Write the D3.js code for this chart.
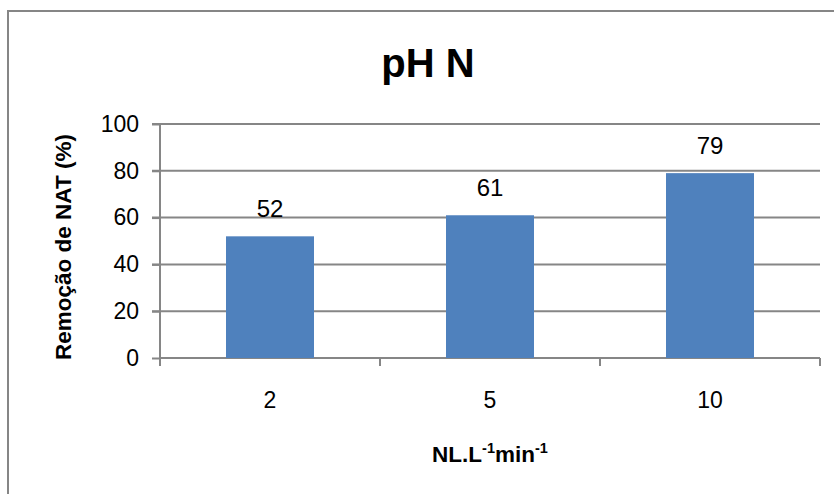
<!DOCTYPE html>
<html>
<head>
<meta charset="utf-8">
<script src="https://cdn.jsdelivr.net/npm/d3@7"></script>
<style>
  html, body { margin: 0; padding: 0; background: #fff; }
  svg { display: block; }
  text { font-family: "Liberation Sans", Arial, sans-serif; fill: #000; }
</style>
</head>
<body>
<svg id="chart" width="834" height="494"></svg>
<script>
// Chart data
const categories = ["2", "5", "10"];
const removal = [52, 61, 79];
const yTicks = [0, 20, 40, 60, 80, 100];
const titleText = "pH N";
const yTitle = "Remoção de NAT (%)";

const W = 834, H = 494;
const plot = { left: 160, right: 820, top: 124, bottom: 358 };
const gray = "#868686";
const barColor = "#4F81BD";

const svg = d3.select("#chart");

// Chart area frame (runs off the right and bottom edges)
svg.append("rect")
  .attr("x", 8).attr("y", 11)
  .attr("width", 900).attr("height", 600)
  .attr("fill", "#fff")
  .attr("stroke", gray).attr("stroke-width", 2);

const x = d3.scaleBand()
  .domain(categories)
  .range([plot.left, plot.right])
  .paddingInner(0.6)
  .paddingOuter(0.3);

const y = d3.scaleLinear()
  .domain([0, 100])
  .range([plot.bottom, plot.top]);

// Horizontal gridlines
svg.append("g")
  .selectAll("line")
  .data(yTicks.filter(d => d > 0))
  .join("line")
  .attr("x1", plot.left - 8).attr("x2", plot.right)
  .attr("y1", d => y(d)).attr("y2", d => y(d))
  .attr("stroke", gray).attr("stroke-width", 2);

// Y axis
const yAxis = d3.axisLeft(y).tickValues(yTicks).tickSize(8).tickPadding(13);
const gy = svg.append("g").attr("transform", `translate(${plot.left},0)`).call(yAxis);
gy.attr("font-size", null).attr("font-family", null);
gy.select(".domain").attr("stroke", gray).attr("stroke-width", 2)
  .attr("d", `M0,${plot.top}V${plot.bottom + 8}`);
gy.selectAll(".tick line").attr("stroke", gray).attr("stroke-width", 2);
gy.selectAll(".tick text")
  .attr("font-size", 23)
  .attr("fill", "#000");

// X axis: ticks sit on category boundaries
const boundaries = d3.range(categories.length + 1)
  .map(i => plot.left + i * (plot.right - plot.left) / categories.length);
svg.append("line")
  .attr("x1", plot.left).attr("x2", plot.right)
  .attr("y1", plot.bottom).attr("y2", plot.bottom)
  .attr("stroke", gray).attr("stroke-width", 2);
svg.append("g")
  .selectAll("line")
  .data(boundaries)
  .join("line")
  .attr("x1", d => d).attr("x2", d => d)
  .attr("y1", plot.bottom).attr("y2", plot.bottom + 8)
  .attr("stroke", gray).attr("stroke-width", 2);

svg.append("g")
  .selectAll("text")
  .data(categories)
  .join("text")
  .attr("x", d => x(d) + x.bandwidth() / 2)
  .attr("y", 408)
  .attr("text-anchor", "middle")
  .attr("font-size", 23)
  .text(d => d);

// Bars
svg.append("g")
  .selectAll("rect")
  .data(categories.map((c, i) => ({ c, v: removal[i] })))
  .join("rect")
  .attr("x", d => x(d.c))
  .attr("width", x.bandwidth())
  .attr("y", d => y(d.v))
  .attr("height", d => y(0) - y(d.v))
  .attr("fill", barColor);

// Value labels
svg.append("g")
  .selectAll("text")
  .data(categories.map((c, i) => ({ c, v: removal[i] })))
  .join("text")
  .attr("x", d => x(d.c) + x.bandwidth() / 2)
  .attr("y", d => y(d.v) - 19)
  .attr("text-anchor", "middle")
  .attr("font-size", 24)
  .text(d => d.v);

// Title
svg.append("text")
  .attr("x", 428).attr("y", 77)
  .attr("text-anchor", "middle")
  .attr("font-size", 40)
  .attr("font-weight", "bold")
  .text(titleText);

// Y axis title
svg.append("text")
  .attr("transform", "translate(71,247) rotate(-90)")
  .attr("text-anchor", "middle")
  .attr("font-size", 22.5)
  .attr("font-weight", "bold")
  .text(yTitle);

// X axis title with superscripts
const xt = svg.append("text")
  .attr("x", 490).attr("y", 462)
  .attr("text-anchor", "middle")
  .attr("font-size", 22.5)
  .attr("font-weight", "bold");
xt.append("tspan").text("NL.L");
xt.append("tspan").attr("font-size", 14.5).attr("dy", -9).text("-1");
xt.append("tspan").attr("dy", 9).text("min");
xt.append("tspan").attr("font-size", 14.5).attr("dy", -9).text("-1");
</script>
</body>
</html>
